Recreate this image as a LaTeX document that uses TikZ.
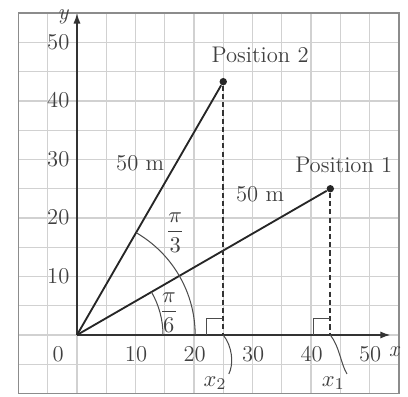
\documentclass[tikz,border=0pt]{standalone}
\usetikzlibrary{arrows.meta}
\begin{document}
\begin{tikzpicture}[x=0.1cm,y=0.1cm,
  gridline/.style={draw=black!18,line width=0.7pt},
  frameline/.style={draw=black!45,line width=0.9pt},
  axisline/.style={draw=black!80,line width=0.8pt,-{Latex[length=5pt,width=3.5pt]}},
  ray/.style={draw=black!85,line width=0.9pt},
  dropline/.style={draw=black!80,line width=0.8pt,dash pattern=on 2.5pt off 1.5pt},
  thin mark/.style={draw=black!70,line width=0.5pt},
  lbl/.style={text=black!75,font=\fontsize{11}{13}\selectfont,inner sep=1pt},
  dot/.style={circle,fill=black!85,inner sep=0pt,minimum size=3.6pt}]
\useasboundingbox (-13.16,-10.43) rectangle (56.58,57.26);
% grid
\foreach \k in {-10,-5,...,55} {
  \draw[gridline] (\k,-10) -- (\k,55);
  \draw[gridline] (-10,\k) -- (55,\k);
}
\draw[frameline] (-10,-10) rectangle (55,55);
% axes
\coordinate (O) at (0,0);
\coordinate (xend) at (53.6,0);
\coordinate (yend) at (0,55);
\draw[axisline] (O) -- (xend);
\draw[axisline] (O) -- (yend);
\node[lbl,font=\fontsize{11}{13}\selectfont\itshape] (xl) at (54.2,-2.9) {x};
\node[lbl,font=\fontsize{11}{13}\selectfont\itshape] (yl) at (-2.4,54.3) {y};
% tick labels
\node[lbl] (l0) at (-3.2,-3.3) {0};
\foreach \v in {10,20,30,40,50} {
  \node[lbl] (xt\v) at (\v+0.1,-3.3) {\v};
  \node[lbl] (yt\v) at (-3.2,\v+0.1) {\v};
}
% points
\node[dot] (P2) at (25,43.30) {};
\node[dot] (P1) at (43.30,25) {};
\coordinate (F2) at (25,0);
\coordinate (F1) at (43.30,0);
\draw[ray] (O) -- (P2);
\draw[ray] (O) -- (P1);
\draw[dropline] (P2) -- (F2);
\draw[dropline] (P1) -- (F1);
% right-angle marks
\draw[thin mark] (22.2,0) -- (22.2,2.8) -- (25,2.8);
\draw[thin mark] (40.5,0) -- (40.5,2.8) -- (43.3,2.8);
% angle arcs
\draw[thin mark] (14.7,0) arc[start angle=0,end angle=30,radius=14.7];
\draw[thin mark] (20.2,0) arc[start angle=0,end angle=60,radius=20.2];
\node[lbl] (a6) at (15.7,3.8) {$\displaystyle\frac{\pi}{6}$};
\node[lbl] (a3) at (16.8,17.5) {$\displaystyle\frac{\pi}{3}$};
% labels
\node[lbl] (pos2) at (31.3,47.9) {Position 2};
\node[lbl] (pos1) at (45.6,29.1) {Position 1};
\node[lbl] (m1) at (10.8,29.4) {50 m};
\node[lbl] (m2) at (31.3,24.0) {50 m};
% x2, x1 braces
\node[lbl] (x2) at (23.6,-8.2) {$x_2$};
\node[lbl] (x1) at (43.8,-8.2) {$x_1$};
\draw[thin mark] (F2) .. controls (26.6,-2) and (26.8,-5) .. (x2.north east);
\draw[thin mark] (F1) .. controls (44.9,-2) and (45.1,-5) .. (x1.north east);
\end{tikzpicture}
\end{document}
